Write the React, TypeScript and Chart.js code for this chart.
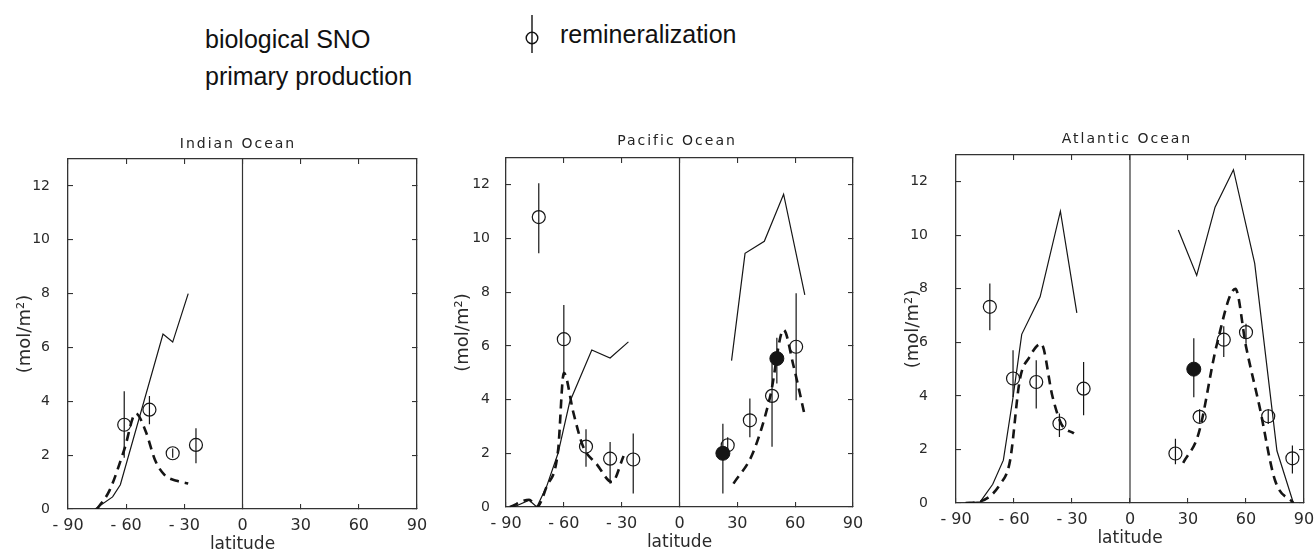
import React, { useEffect, useRef } from "react";
import { Chart, registerables } from "chart.js";

Chart.register(...registerables);

// ---------------- DATA ----------------
const X_TICK_STEP = 30;
const Y_TICK_STEP = 2;
const LEGEND_LABELS = ["biological SNO", "primary production", "remineralization"];
const PANEL_TITLES = ["Indian Ocean", "Pacific Ocean", "Atlantic Ocean"];

// Indian Ocean
const indProdLat = [-76, -67, -63, -41, -36, -28];
const indProdVal = [0, 0.45, 0.9, 6.5, 6.2, 8.0];
const indSnoLat = [-75, -68.5, -61, -55, -50, -45, -40, -34, -28];
const indSnoVal = [0, 0.7, 2.2, 3.55, 2.9, 1.8, 1.25, 1.05, 0.95];
const indRemLat = [-61, -48, -36, -24];
const indRemVal = [3.13, 3.69, 2.07, 2.38];
const indRemLo = [1.9, 3.15, 1.9, 1.7];
const indRemHi = [4.37, 4.2, 2.25, 3.0];
const indRemFilled = [false, false, false, false];

// Pacific Ocean
const pacProdLatS = [-86, -78, -74, -69, -63, -57, -45.5, -36, -26.5];
const pacProdValS = [0, 0.25, 0, 0.75, 2.0, 3.9, 5.85, 5.55, 6.15];
const pacProdLatN = [27, 34, 44, 54, 65];
const pacProdValN = [5.45, 9.45, 9.9, 11.65, 7.9];
const pacSnoLatS = [-88, -78, -74, -69, -63, -60, -55, -50, -43, -35, -29];
const pacSnoValS = [0, 0.27, 0, 0.75, 2.1, 5.0, 3.5, 2.25, 1.6, 0.93, 1.9];
const pacSnoLatN = [28, 38, 47, 54, 59, 65];
const pacSnoValN = [0.87, 2.0, 4.1, 6.6, 5.3, 3.4];
const pacRemLat = [-73, -60, -48.5, -36, -24, 22.5, 25, 36.5, 48, 50.5, 60.5];
const pacRemVal = [10.8, 6.25, 2.25, 1.8, 1.77, 2.0, 2.3, 3.23, 4.14, 5.53, 5.97];
const pacRemLo = [9.45, 4.85, 1.5, 0.87, 0.5, 0.5, 2.0, 2.6, 2.24, 4.6, 3.98];
const pacRemHi = [12.06, 7.52, 2.9, 2.42, 2.74, 3.1, 2.6, 4.04, 5.35, 6.3, 7.96];
const pacRemFilled = [false, false, false, false, false, true, false, false, false, true, false];

// Atlantic Ocean
const atlProdLatS = [-85, -77.5, -71, -65.5, -60.5, -56, -46.5, -36, -27.5];
const atlProdValS = [0, 0.04, 0.7, 1.6, 3.95, 6.3, 7.7, 10.9, 7.1];
const atlProdLatN = [25, 34.5, 44, 53.5, 64.5, 76, 84.5];
const atlProdValN = [10.2, 8.5, 11.05, 12.45, 8.95, 1.95, 0];
const atlSnoLatS = [-85, -77, -67, -62, -57, -52, -46, -40, -35.5, -29];
const atlSnoValS = [0, 0.07, 0.72, 1.6, 4.6, 5.45, 5.95, 3.95, 2.95, 2.6];
const atlSnoLatN = [27.5, 35.5, 45, 54.5, 60, 67, 75, 84.5];
const atlSnoValN = [1.5, 2.6, 5.95, 8.0, 5.85, 3.6, 0.85, 0];
const atlRemLat = [-72.5, -60.5, -48.5, -36.5, -24, 23.5, 33, 36, 48.5, 60, 71.5, 84];
const atlRemVal = [7.33, 4.65, 4.52, 2.97, 4.27, 1.85, 5.0, 3.22, 6.1, 6.38, 3.24, 1.67];
const atlRemLo = [6.45, 3.96, 3.53, 2.47, 3.28, 1.45, 3.95, 3.0, 5.45, 5.95, 2.95, 1.1];
const atlRemHi = [8.2, 5.71, 5.33, 3.34, 5.27, 2.4, 6.15, 3.5, 6.6, 6.7, 3.5, 2.15];
const atlRemFilled = [false, false, false, false, false, false, true, false, false, false, false, false];

// ---------------- HELPERS ----------------
const FONT = "'DejaVu Sans', sans-serif";
const INK = "#151515";
const AXIS = "#333333";

type P = { x: number; y: number | null };
const pts = (lat: number[], val: number[]): P[] => lat.map((x, i) => ({ x, y: val[i] }));
const bars = (lat: number[], lo: number[], hi: number[]): P[] =>
  lat.flatMap((x, i) => [{ x, y: lo[i] }, { x, y: hi[i] }, { x, y: null }]);
const pick = (lat: number[], val: number[], flags: boolean[], want: boolean): P[] =>
  lat.map((x, i) => ({ x, y: val[i] })).filter((_, i) => flags[i] === want);

const solid = (data: P[]) => ({
  data, borderColor: INK, borderWidth: 1.2, pointRadius: 0, tension: 0, fill: false,
  xAxisID: "x", yAxisID: "y",
});
const dashed = (data: P[]) => ({
  data, borderColor: INK, borderWidth: 2.6, borderDash: [9, 6], pointRadius: 0, tension: 0.25,
  cubicInterpolationMode: "monotone", fill: false, xAxisID: "x", yAxisID: "y",
});

function buildDatasets(
  prod: P[][], sno: P[][], remLat: number[], remVal: number[], remLo: number[], remHi: number[], filled: boolean[]
) {
  return [
    {
      data: pick(remLat, remVal, filled, true), showLine: false, pointRadius: 7, pointBackgroundColor: INK,
      pointBorderColor: INK, pointBorderWidth: 1, xAxisID: "x", yAxisID: "y",
    },
    {
      data: pick(remLat, remVal, filled, false), showLine: false, pointRadius: 6.5,
      pointBackgroundColor: "rgba(0,0,0,0)", pointBorderColor: INK, pointBorderWidth: 1.2,
      xAxisID: "x", yAxisID: "y",
    },
    {
      data: bars(remLat, remLo, remHi), borderColor: INK, borderWidth: 1.2, pointRadius: 0,
      spanGaps: false, xAxisID: "x", yAxisID: "y",
    },
    ...prod.map(solid),
    ...sno.map(dashed),
    {
      data: [{ x: 0, y: 0 }, { x: 0, y: 13 }], borderColor: AXIS, borderWidth: 1.2, pointRadius: 0,
      xAxisID: "x", yAxisID: "y",
    },
  ];
}

const PANELS = [
  {
    title: PANEL_TITLES[0], L: 68, T: 159, R: 417, B: 509, yPad: 23, titleX: 238, titleY: 143,
    datasets: buildDatasets([pts(indProdLat, indProdVal)], [pts(indSnoLat, indSnoVal)],
      indRemLat, indRemVal, indRemLo, indRemHi, indRemFilled),
  },
  {
    title: PANEL_TITLES[1], L: 506, T: 158, R: 853, B: 507, yPad: 21, titleX: 677, titleY: 140,
    datasets: buildDatasets(
      [pts(pacProdLatS, pacProdValS), pts(pacProdLatN, pacProdValN)],
      [pts(pacSnoLatS, pacSnoValS), pts(pacSnoLatN, pacSnoValN)],
      pacRemLat, pacRemVal, pacRemLo, pacRemHi, pacRemFilled),
  },
  {
    title: PANEL_TITLES[2], L: 956, T: 155, R: 1304, B: 503, yPad: 33, titleX: 1127, titleY: 138,
    datasets: buildDatasets(
      [pts(atlProdLatS, atlProdValS), pts(atlProdLatN, atlProdValN)],
      [pts(atlSnoLatS, atlSnoValS), pts(atlSnoLatN, atlSnoValN)],
      atlRemLat, atlRemVal, atlRemLo, atlRemHi, atlRemFilled),
  },
];

const Y_AXIS_W = 57;
const X_AXIS_H = 48;
const PAD_TOP = 10;
const PAD_RIGHT = 15;

const zeroPad = (s: any) => {
  s.paddingTop = 0;
  s.paddingBottom = 0;
  s.paddingLeft = 0;
  s.paddingRight = 0;
};

function Panel({ p }: { p: (typeof PANELS)[number] }) {
  const ref = useRef<HTMLCanvasElement>(null);
  const width = Y_AXIS_W + (p.R - p.L) + PAD_RIGHT;
  const height = PAD_TOP + (p.B - p.T) + X_AXIS_H;
  useEffect(() => {
    if (!ref.current) return;
    const grid = { drawOnChartArea: false, drawTicks: true, tickLength: -5, color: AXIS, lineWidth: 1.1 };
    const border = { display: true, color: AXIS, width: 1.3 };
    const chart = new Chart(ref.current, {
      type: "line",
      data: { datasets: p.datasets as any },
      options: {
        responsive: false,
        animation: false,
        events: [],
        layout: { autoPadding: false, padding: { left: 0, right: PAD_RIGHT, top: PAD_TOP, bottom: 0 } } as any,
        plugins: { legend: { display: false }, tooltip: { enabled: false }, title: { display: false } },
        scales: {
          x: {
            type: "linear", axis: "x", position: "bottom", min: -90, max: 90,
            ticks: {
              stepSize: X_TICK_STEP, autoSkip: false, maxRotation: 0, padding: 12, color: "#2a2a2a",
              font: { family: FONT, size: 16 },
              callback: (v: any) => (Number(v) < 0 ? "- " + Math.abs(Number(v)) : String(v)),
            },
            grid, border,
            title: { display: true, text: "latitude", color: "#2a2a2a", font: { family: FONT, size: 17 }, padding: { top: 0, bottom: 2 } },
            afterFit: (s: any) => { s.height = X_AXIS_H; zeroPad(s); },
          },
          xt: {
            type: "linear", axis: "x", position: "top", min: -90, max: 90,
            ticks: { stepSize: X_TICK_STEP, display: false },
            grid, border,
            afterFit: (s: any) => { s.height = 0; zeroPad(s); },
          },
          y: {
            type: "linear", axis: "y", position: "left", min: 0, max: 13,
            ticks: {
              stepSize: Y_TICK_STEP, includeBounds: false, padding: p.yPad, color: "#2a2a2a",
              font: { family: FONT, size: 14 },
            },
            grid, border,
            title: { display: true, text: "(mol/m²)", color: "#2a2a2a", font: { family: FONT, size: 18 }, padding: { top: 4, bottom: 0 } },
            afterFit: (s: any) => { s.width = Y_AXIS_W; zeroPad(s); },
          },
          yr: {
            type: "linear", axis: "y", position: "right", min: 0, max: 13,
            ticks: { stepSize: Y_TICK_STEP, includeBounds: false, display: false },
            grid, border,
            afterFit: (s: any) => { s.width = 0; zeroPad(s); },
          },
        } as any,
      },
    });
    return () => chart.destroy();
  }, []);
  return (
    <>
      <canvas
        ref={ref}
        width={width}
        height={height}
        style={{ position: "absolute", left: p.L - Y_AXIS_W, top: p.T - PAD_TOP, width, height }}
      />
      <div
        style={{
          position: "absolute", left: p.titleX - 120, width: 240, top: p.titleY - 9, height: 18,
          lineHeight: "18px", textAlign: "center", fontFamily: FONT, fontSize: 14, letterSpacing: "2px",
          color: "#222",
        }}
      >
        {p.title}
      </div>
    </>
  );
}

export default function App() {
  const legendText: React.CSSProperties = {
    position: "absolute", fontFamily: "'Liberation Sans', Arial, sans-serif", fontSize: 25,
    lineHeight: "25px", color: "#111", whiteSpace: "nowrap",
  };
  return (
    <div
      style={{
        position: "absolute", left: 0, top: 0, width: 1316, height: 553, overflow: "hidden",
        background: "#ffffff",
      }}
    >
      <div style={{ ...legendText, left: 205, top: 27 }}>{LEGEND_LABELS[0]}</div>
      <div style={{ ...legendText, left: 205, top: 64 }}>{LEGEND_LABELS[1]}</div>
      <svg style={{ position: "absolute", left: 522, top: 14 }} width={20} height={40}>
        <line x1={10} y1={1} x2={10} y2={39} stroke="#111" strokeWidth={1.4} />
        <circle cx={10} cy={24} r={5.8} fill="none" stroke="#111" strokeWidth={1.4} />
      </svg>
      <div style={{ ...legendText, left: 560, top: 22 }}>{LEGEND_LABELS[2]}</div>
      {PANELS.map((p, i) => (
        <Panel key={i} p={p} />
      ))}
    </div>
  );
}
